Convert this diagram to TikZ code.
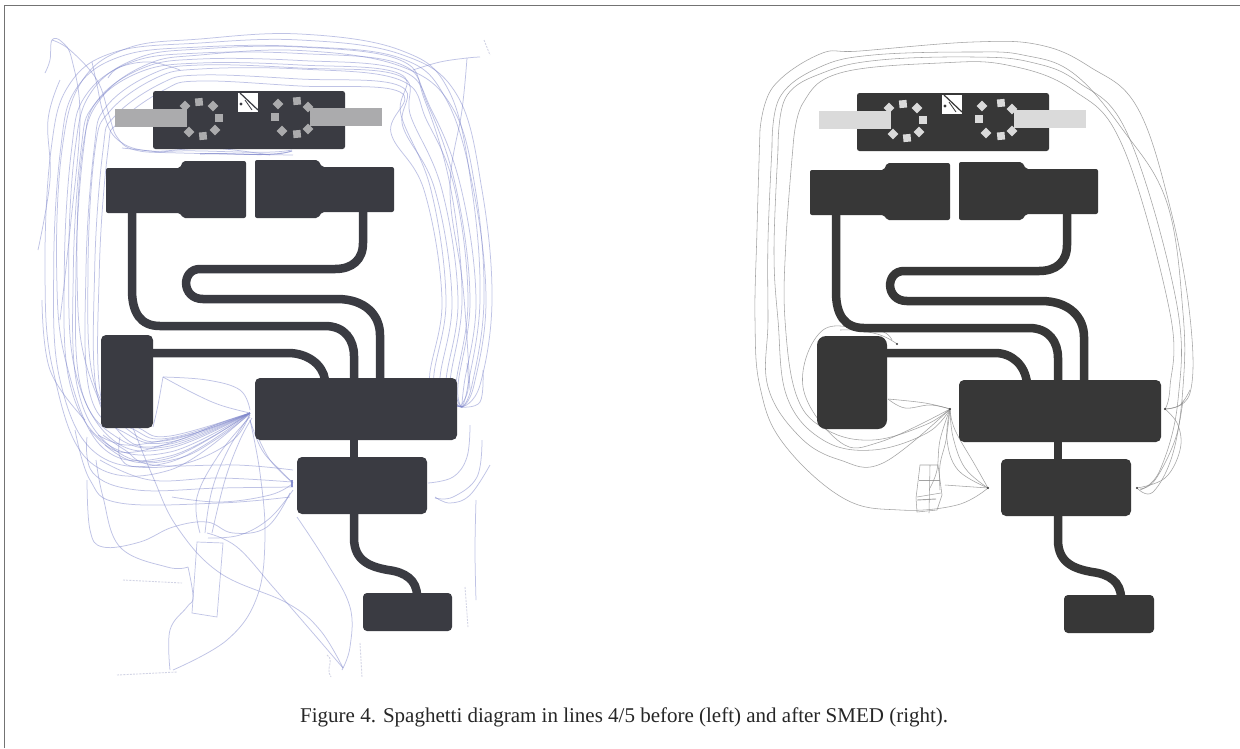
\documentclass[tikz,border=0pt]{standalone}
\usepackage{fontspec}
\setmainfont{Liberation Serif}
\definecolor{dkL}{HTML}{3A3B42}
\definecolor{dkR}{HTML}{373737}
\definecolor{barL}{HTML}{ABABAD}
\definecolor{barR}{HTML}{DADADA}
\definecolor{inkL}{HTML}{8088CC}
\definecolor{inkR}{HTML}{8C8C8C}
\tikzset{
  bl/.style={draw=inkL,line width=.75pt,opacity=.5},
  gr/.style={draw=inkR,line width=.55pt,opacity=.8},
  scr/.style={draw=inkL!70!gray,line width=.9pt,opacity=.35,dash pattern=on 2pt off 1.2pt},
  pipe/.style={line width=8.5pt},
  blockshape/.style={rounded corners=2pt},
  frameline/.style={draw=black!55,line width=1.5pt}
}
\newcommand{\blcurve}[1]{\draw[bl] plot[smooth,tension=.65] coordinates {#1};}
\newcommand{\grcurve}[1]{\draw[gr] plot[smooth,tension=.65] coordinates {#1};}
\newcommand{\machinelayout}[2]{%
  \fill[#1,rounded corners=2.5pt] (153,91) rectangle (345,149);
  \fill[#2] (115,109) rectangle (187,127);
  \fill[#2] (310,108) rectangle (382,126);
  \fill[#1] (201,119) circle (14);
  \fill[#1] (296,118) circle (14);
  \foreach \x/\y/\r in {185/106/45,199/102/5,213/106/45,219/118/0,215/130/45,203/136/5,189/132/45,278/104/45,297/101/5,308/107/45,308/129/45,297/134/5,282/131/45,275/117/0}{
    \fill[#2,rotate around={\r:(\x,\y)}] (\x-3.8,\y-3.8) rectangle (\x+3.8,\y+3.8);
  }
  \fill[white] (238,93) rectangle (258,112);
  \draw[#1,line width=1.2pt] (240,93) -- (258,110);
  \draw[#1,line width=.8pt] (245,100) -- (252,110);
  \fill[#1] (241,104) circle (1.6);
  \fill[#1,blockshape] (106,168) -- (180,168) -- (183,161) -- (246,161) -- (246,218) -- (183,218) -- (180,213) -- (106,213) -- cycle;
  \fill[#1,blockshape] (255,160) -- (318,160) -- (322,167) -- (394,167) -- (394,212) -- (322,212) -- (318,218) -- (255,218) -- cycle;
  \draw[#1,pipe] (132,212) -- (132,290) .. controls (132,312) and (140,326) .. (160,326) -- (325,326) .. controls (345,326) and (354,340) .. (354,356) -- (354,382);
  \draw[#1,pipe] (363,212) -- (363,243) .. controls (363,260) and (352,269) .. (335,269) -- (200,269) .. controls (181,269) and (181,299) .. (203,299) -- (337,299) .. controls (365,299) and (380,315) .. (380,335) -- (380,382);
  \fill[#1,rounded corners=5pt] (255,378) rectangle (457,440);
  \draw[#1,pipe] (354,438) -- (354,460);
  \fill[#1,rounded corners=5pt] (297,457) rectangle (427,514);
  \draw[#1,pipe] (354,512) -- (354,538) .. controls (354,562) and (372,567) .. (388,570) .. controls (405,572) and (417,580) .. (417,596);
}
\begin{document}
\begin{tikzpicture}[x=1pt,y=-1pt]
\useasboundingbox (0,0) rectangle (1240,748);
\fill[white] (0,0) rectangle (1240,748);
\draw[frameline] (4.5,748) -- (4.5,5.5) -- (1240,5.5);

%% ---------- left panel: spaghetti behind the plant ----------
\foreach \l/\t/\r/\b/\k in {45/40/492/470/0,52/44/486/462/5,58/36/480/456/-4,62/50/470/452/7,68/46/462/448/2,73/56/476/446/9,78/52/484/444/-3,82/62/458/442/12,86/66/468/440/6,90/72/452/438/14,70/60/446/458/10,94/78/442/436/16}{
  \blcurve{(250,413) (170,\b) (\l+45,\b-8) (\l+8,370+\k*2) (\l+\k/3,270) (\l+6+\k/2,150) (\l+24,\t+45) (\l+70,\t+12) (200,\t+3) (300,\t+\k/2) (400,\t+14) (\r-35-\k,\t+55) (\r-10-\k/2,190) (\r,300) (\r-12,385) (462,407)}
}
\blcurve{(52,40) (70,50) (97,80) (109,115) (117,137) (135,150) (180,153) (293,155)}
\blcurve{(45,73) (50,60) (52,40) (62,42) (72,60) (80,120) (70,230) (60,320)}
\blcurve{(92,62) (97,85) (104,115) (118,140) (150,151) (210,148) (270,155)}
\blcurve{(108,78) (120,67) (150,62) (180,70)}
\blcurve{(413,70) (440,62) (467,58) (480,57)}
\blcurve{(467,58) (462,110) (450,190) (463,287) (470,390)}
\blcurve{(38,250) (50,180) (48,120) (60,80)}
\blcurve{(42,300) (50,370) (85,420)}
\blcurve{(163,377) (207,380) (240,390) (250,410)}
\blcurve{(163,377) (193,393) (220,405) (250,413)}
\blcurve{(163,377) (158,405) (153,427)}
\blcurve{(90,430) (120,452) (170,443) (220,423) (250,413)}
\blcurve{(120,437) (120,457) (137,467) (187,463) (233,440) (250,413)}
\blcurve{(293,470) (237,465) (153,465) (125,450) (103,435)}
\blcurve{(293,487) (220,488) (137,490) (93,473) (87,437)}
\blcurve{(290,497) (220,503) (120,503) (90,480) (75,430)}
\blcurve{(87,480) (90,530) (103,547) (140,542) (173,527) (207,522) (233,533) (267,527) (290,493)}
\blcurve{(133,428) (153,477) (177,527) (220,573) (287,603) (320,630) (343,668)}
\blcurve{(207,533) (237,547) (273,587) (313,633) (343,668)}
\blcurve{(250,420) (260,473) (265,537) (257,597) (227,640) (173,670)}
\blcurve{(200,533) (197,497) (220,453) (250,417)}
\blcurve{(205,533) (212,490) (228,450) (250,415)}
\blcurve{(212,533) (225,480) (240,440) (252,418)}
\blcurve{(208,538) (240,535) (270,518) (293,490)}
\blcurve{(188,567) (193,597) (187,607) (170,630) (170,670)}
\blcurve{(188,567) (167,567) (120,547) (103,497) (96,460)}
\blcurve{(297,517) (327,563) (350,607) (350,647) (342,670)}
\blcurve{(250,413) (205,430) (165,440) (125,445) (98,435)}
\blcurve{(250,414) (215,440) (180,458) (135,462) (105,445)}
\blcurve{(172,497) (220,502) (270,495) (292,484)}
\blcurve{(100,460) (150,480) (220,478) (292,482)}
\blcurve{(250,420) (262,450) (280,470) (293,483)}
\blcurve{(255,430) (270,460) (293,483)}
\blcurve{(428,483) (453,477) (467,457) (470,425)}
\blcurve{(435,498) (453,497) (477,477) (482,440)}
\blcurve{(435,497) (450,503) (470,495) (490,465)}
\blcurve{(460,407) (480,402) (483,370)}
\blcurve{(460,407) (468,390) (467,363)}
\blcurve{(476,500) (475,550) (476,600)}
\draw[bl,line width=.7pt] (197,542) -- (223,543) -- (217,617) -- (192,613) -- cycle;
\draw[draw=inkL,line width=2.6pt,opacity=.9] (292,480) -- (292,487);
\draw[scr] (123,580) -- (182,583);
\draw[scr] (117,675) -- (177,672);
\draw[scr] (327,655) .. controls (335,660) and (325,668) .. (331,677);
\draw[scr] (360,643) -- (362,677);
\draw[scr] (465,587) -- (468,627);
\draw[scr] (484,40) -- (490,55);

\machinelayout{dkL}{barL}
\draw[bl] (122,148) -- (160,152) .. controls (200,148) and (260,156) .. (292,150);
\draw[draw=inkL,line width=1pt,opacity=.7] (200,154) .. controls (230,152) and (270,158) .. (292,151);
\fill[dkL,rounded corners=5pt] (101,335) rectangle (153,428);
\draw[dkL,pipe] (150,353) -- (288,353) .. controls (308,353) and (323,365) .. (325,380);
\fill[dkL,rounded corners=4pt] (363,593) rectangle (452,631);

%% ---------- right panel ----------
\grcurve{(950,409) (880,442) (840,442) (803,387) (823,330) (873,333) (897,344)}
\grcurve{(760,130) (773,87) (820,54) (860,51) (973,42) (1040,45) (1090,67) (1137,107) (1170,207) (1190,317) (1190,393) (1165,409)}
\grcurve{(772,147) (780,97) (820,67) (873,55) (973,52) (1023,55) (1073,73) (1123,130) (1167,203) (1183,313) (1183,387) (1173,453) (1153,492) (1137,488)}
\grcurve{(793,147) (803,103) (840,73) (940,63) (1007,65) (1073,90) (1123,147) (1170,313) (1170,387) (1165,409)}
\grcurve{(778,150) (786,97) (825,72) (880,60) (973,57) (1030,62) (1078,82) (1128,135) (1176,300) (1178,400) (1160,470) (1140,490)}
\grcurve{(760,130) (757,230) (755,320) (760,387) (783,443) (843,498) (900,510) (957,505) (988,488)}
\grcurve{(772,147) (768,240) (768,320) (768,387) (800,437) (840,460) (883,463) (950,409)}
\grcurve{(778,150) (774,250) (778,320) (787,397) (823,440) (873,450) (927,433) (950,409)}
\grcurve{(793,147) (786,240) (785,320) (797,397) (827,430) (873,440) (925,425) (950,409)}
\grcurve{(892,340) (880,331) (840,330)}
\grcurve{(888,399) (925,403) (950,409)}
\grcurve{(888,399) (905,408) (930,405) (950,409)}
\grcurve{(950,409) (953,437) (965,468) (988,488)}
\grcurve{(950,409) (947,440) (958,470) (988,488)}
\grcurve{(950,409) (955,430) (975,465) (988,488)}
\grcurve{(950,409) (940,440) (937,470) (930,488)}
\grcurve{(950,409) (946,440) (940,465) (940,490)}
\draw[gr] (945,485) -- (988,488);
\draw[gr] (920,465) -- (938,465) -- (942,495) -- (937,510) -- (917,512) -- (916,498) -- cycle;
\draw[gr] (930,465) -- (929,513);
\draw[gr] (919,480) -- (940,480);
\draw[gr] (917,497) -- (941,493);
\draw[gr,line width=.9pt] (917,500) -- (936,499);
\grcurve{(1165,409) (1180,405) (1190,390)}
\grcurve{(1165,409) (1178,425) (1180,450) (1165,478) (1137,488)}
\grcurve{(1140,489) (1155,480) (1175,440) (1183,400)}
\fill[dkR] (897,344) circle (1.2);
\fill[dkR] (950,409) circle (1.2);
\fill[dkR] (988,488) circle (1.2);
\fill[dkR] (1137,488) circle (1.2);
\fill[dkR] (1165,409) circle (1.2);

\begin{scope}[shift={(704,2)}]
\machinelayout{dkR}{barR}
\end{scope}
\fill[dkR,rounded corners=9pt] (817,336) rectangle (887,429);
\draw[dkR,pipe] (884,353) -- (995,353) .. controls (1012,353) and (1025,365) .. (1027,383);
\fill[dkR,rounded corners=4pt] (1064,595) rectangle (1154,633);

\node[inner sep=0pt,anchor=base west,font=\fontsize{21}{24}\selectfont,text=black!85] (caption) at (300,722) {Figure 4. Spaghetti diagram in lines 4/5 before (left) and after SMED (right).};
\end{tikzpicture}
\end{document}
